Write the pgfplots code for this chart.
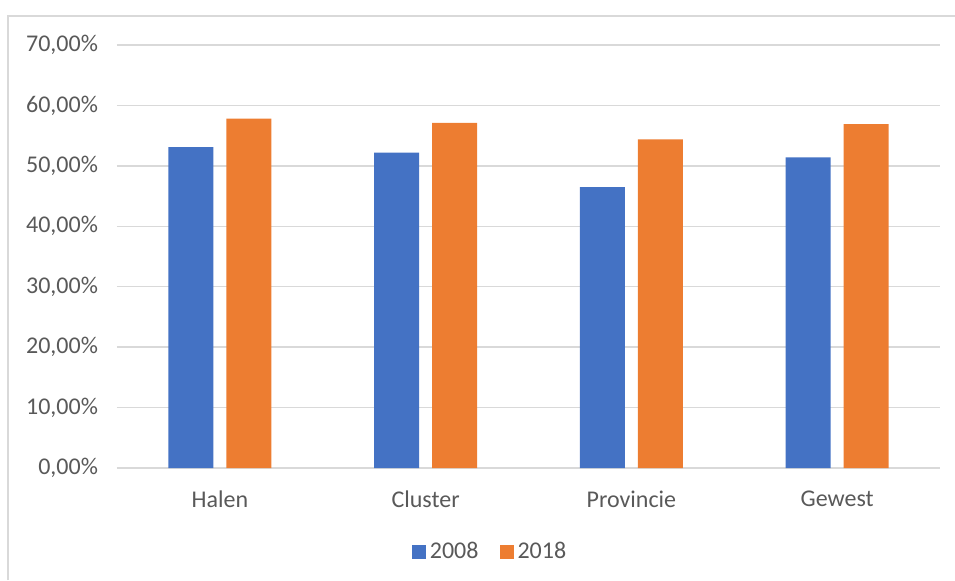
\documentclass[border=0pt]{standalone}
\usepackage{pgfplots}
\pgfplotsset{compat=1.18}
\usepackage{fontspec}
\setmainfont{Carlito}
\definecolor{xlblue}{HTML}{4472C4}
\definecolor{xlorange}{HTML}{ED7D31}
\definecolor{xltext}{HTML}{595959}
\definecolor{xlgrid}{HTML}{D9D9D9}
\begin{document}
\begin{tikzpicture}
\path[use as bounding box] (0pt,0pt) rectangle (477.5pt,-290pt);
\draw[xlgrid, line width=1pt] (4pt,-290pt) -- (4pt,-8pt) -- (477.5pt,-8pt);
\begin{axis}[
    at={(58.5pt,-234pt)}, anchor=south west,
    scale only axis,
    width=411.5pt, height=211.5pt,
    ybar=6.5pt, bar width=22.5pt,
    xmin=-0.5, xmax=3.5,
    ymin=0, ymax=70,
    xtick=data,
    xticklabels={Halen,Cluster,Provincie,Gewest},
    ytick={0,10,...,70},
    yticklabel={\pgfmathprintnumber[fixed,fixed zerofill,precision=2,use comma]{\tick}\%},
    /pgf/number format/assume math mode=true,
    ymajorgrids=true,
    grid style={xlgrid, line width=0.75pt},
    axis line style={draw=none},
    axis x line*=bottom,
    axis y line*=left,
    extra y ticks={0},
    extra y tick labels={},
    extra y tick style={grid style={xlgrid, line width=0.9pt}},
    major tick length=0pt,
    tick style={draw=none},
    ticklabel style={font=\fontsize{12pt}{14pt}\selectfont, text=xltext},
    yticklabel style={xshift=-6pt},
    xticklabel style={yshift=-8pt},
    legend columns=2,
    legend style={at={(0.4545,-0.1986)}, anchor=center, draw=none,
        font=\fontsize{12pt}{14pt}\selectfont, text=xltext,
        /tikz/every even column/.append style={column sep=8.5pt}},
    legend image code/.code={\fill[#1] (0pt,-3.5pt) rectangle (7pt,3.5pt);},
]
\addplot[fill=xlblue, draw=none] coordinates {(0,53.1) (1,52.2) (2,46.5) (3,51.4)};
\addplot[fill=xlorange, draw=none] coordinates {(0,57.8) (1,57.1) (2,54.4) (3,56.9)};
\legend{2008,2018}
\end{axis}
\end{tikzpicture}
\end{document}
